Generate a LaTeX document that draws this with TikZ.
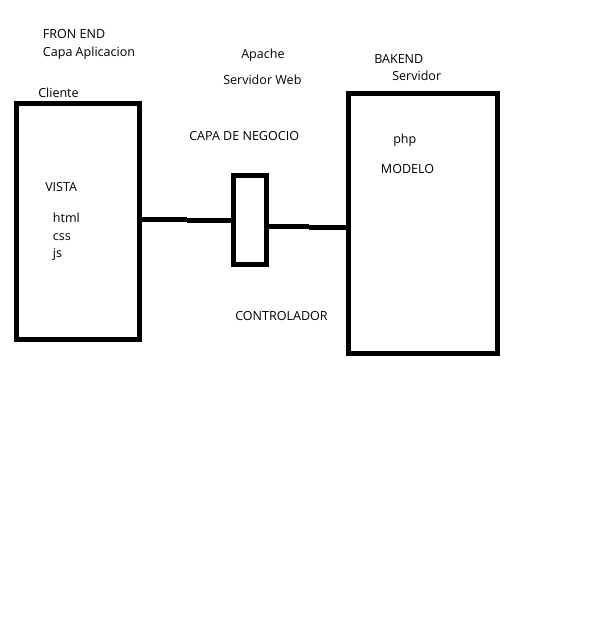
\documentclass[tikz,border=0pt]{standalone}
\usepackage{fontspec}
\setmainfont{Open Sans}
\usepackage{tikz}
\usetikzlibrary{positioning}

\begin{document}
\begin{tikzpicture}[
  x=0.75pt, y=-0.75pt,
  capa/.style={draw, line width=3.75pt, inner sep=0pt, outer sep=0pt},
  link/.style={line width=3.75pt},
  lbl/.style={anchor=base west, inner sep=0pt, font=\fontsize{9.4}{11}\selectfont}
]
  \useasboundingbox (0,0) rectangle (588,630);

  % cajas
  \node[capa, minimum width=92.25pt, minimum height=177pt] (cliente) at (78,221.5) {};
  \node[capa, minimum width=24.75pt, minimum height=66.75pt] (negocio) at (250,220) {};
  \node[capa, minimum width=111.75pt, minimum height=194.625pt] (servidor) at (423,223.25) {};

  % conexiones
  \coordinate (a1) at (187,219.5);
  \coordinate (a2) at (187,220.5);
  \coordinate (b1) at (309,226.5);
  \coordinate (b2) at (309,228);
  \draw[link] (cliente.east |- a1) -- (a1);
  \draw[link] (a2) -- (negocio.west |- a2);
  \draw[link] (negocio.east |- b1) -- (b1);
  \draw[link] (b2) -- (servidor.west |- b2);

  % textos
  \node[lbl] (fronend) at (42.7,39) {FRON END};
  \node[lbl] (aplicacion) at (42.7,57) {Capa Aplicacion};
  \node[lbl] (tcliente) at (38,97.3) {Cliente};
  \node[lbl] (apache) at (241,59) {Apache};
  \node[lbl] (web) at (223,85) {Servidor Web};
  \node[lbl] (bakend) at (374,63.3) {BAKEND};
  \node[lbl] (tservidor) at (392,80.7) {Servidor};
  \node[lbl] (tnegocio) at (189,140.7) {CAPA DE NEGOCIO};
  \node[lbl] (php) at (393,143.3) {php};
  \node[lbl] (modelo) at (380.7,173.3) {MODELO};
  \node[lbl] (vista) at (45,191.7) {VISTA};
  \node[lbl] (html) at (52.7,222.7) {html};
  \node[lbl] (css) at (52.7,240.7) {css};
  \node[lbl] (js) at (52.7,257.5) {js};
  \node[lbl] (controlador) at (235,320.5) {CONTROLADOR};
\end{tikzpicture}
\end{document}
